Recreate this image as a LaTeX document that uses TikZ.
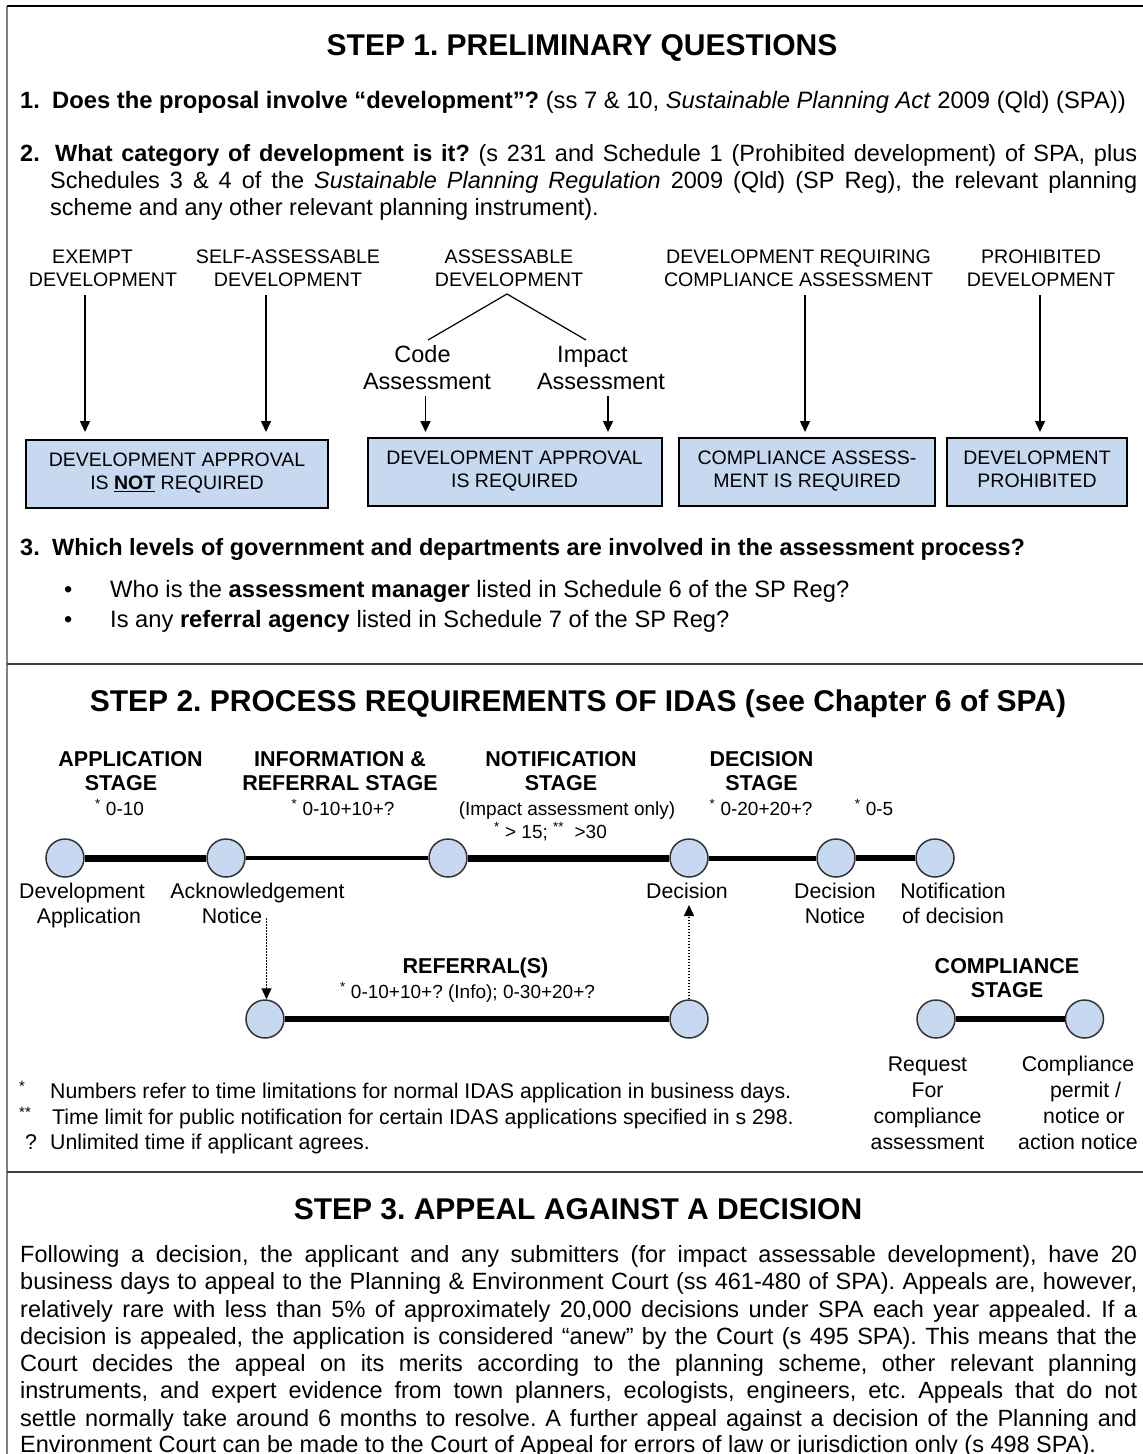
\documentclass[tikz,border=0pt]{standalone}
\usepackage{fontspec}
\setmainfont{Liberation Sans}
\usetikzlibrary{arrows.meta}
\definecolor{boxblue}{HTML}{C6D9F1}
\definecolor{framegray}{HTML}{808080}
\newcommand\fs[2]{\fontsize{#1}{#2}\selectfont}
\frenchspacing
\tikzset{
  ttl/.style={font=\fs{30}{34}\bfseries\frenchspacing, anchor=base, inner sep=0pt},
  qtxt/.style={font=\fs{23.5}{27}\frenchspacing, anchor=base west, inner sep=0pt},
  cat/.style={font=\fs{19.6}{23}, align=center, anchor=base, inner sep=0pt},
  bx/.style={draw=black, line width=2pt, fill=boxblue, font=\fs{19.5}{23}, align=center, inner sep=0pt},
  arr/.style={line width=1.5pt, -{Triangle[length=11pt,width=10pt]}},
  stg/.style={font=\fs{21.5}{24}\bfseries, align=center, anchor=base, inner sep=0pt},
  num/.style={font=\fs{19}{23}\frenchspacing, anchor=base, inner sep=0pt},
  lbl/.style={font=\fs{21.3}{25}, align=center, anchor=base, inner sep=0pt},
  fn/.style={font=\fs{21.3}{25}\frenchspacing, anchor=base west, inner sep=0pt},
  dot/.style={circle, minimum size=38pt, inner sep=0pt, fill=boxblue, draw=black!80, line width=1.5pt},
  dotarr/.style={line width=1.2pt, dash pattern=on 1.5pt off 1.5pt, -{Triangle[length=11pt,width=10pt]}},
  rule/.style={line width=1.5pt, black!75}
}
\begin{document}
\begin{tikzpicture}[x=1pt,y=-1pt]
\useasboundingbox (0,0) rectangle (1143,1454);
% frame
\draw[framegray, line width=2pt] (7,6) -- (7,1454);
\draw[black, line width=1.5pt] (7,6) -- (1143,6);
\draw[rule] (7,664) -- (1143,664);
\draw[rule] (7,1172) -- (1143,1172);

% ---------- STEP 1
\node[ttl] (t1) at (582,55.5) {STEP 1. PRELIMINARY QUESTIONS};
\node[qtxt] (q1n) at (20,108.5) {\textbf{1.}};
\node[qtxt, font=\fs{23.75}{27}\frenchspacing] (q1) at (52,108.5) {\textbf{Does the proposal involve “development”?} (ss 7 \& 10, \textit{Sustainable Planning Act} 2009 (Qld) (SPA))};
\node[qtxt] (q2n) at (20,161) {\textbf{2.}};
\node[qtxt] (q2a) at (55,161) {\makebox[1082pt][s]{\textbf{What category of development is it?} (s 231 and Schedule 1 (Prohibited development) of SPA, plus}};
\node[qtxt] (q2b) at (50,188) {\makebox[1087pt][s]{Schedules 3 \& 4 of the \textit{Sustainable Planning Regulation} 2009 (Qld) (SP Reg), the relevant planning}};
\node[qtxt] (q2c) at (50,215) {scheme and any other relevant planning instrument).};

% categories (anchor = baseline of last line)
\node[cat] (cex) at (103,286) {EXEMPT\hspace*{21pt}\\DEVELOPMENT};
\node[cat] (csa) at (288,286) {SELF-ASSESSABLE\\DEVELOPMENT};
\node[cat] (cas) at (509,286) {ASSESSABLE\\DEVELOPMENT};
\node[cat] (ccp) at (798.5,286) {DEVELOPMENT REQUIRING\\COMPLIANCE ASSESSMENT};
\node[cat] (cpr) at (1041,286) {PROHIBITED\\DEVELOPMENT};
\node[qtxt, anchor=base, align=center] (ccode) at (427,389.5) {Code\hspace*{9pt}\\Assessment};
\node[qtxt, anchor=base, align=center] (cimp) at (601,389.5) {Impact\hspace*{17pt}\\Assessment};

% boxes
\node[bx, minimum width=302pt, minimum height=68pt] (b1) at (177,474) {DEVELOPMENT APPROVAL\\IS \underline{\textbf{NOT}} REQUIRED\rule[-6pt]{0pt}{1pt}};
\node[bx, minimum width=294pt, minimum height=68pt] (b2) at (514.5,472) {DEVELOPMENT APPROVAL\\IS REQUIRED\rule[-6pt]{0pt}{1pt}};
\node[bx, minimum width=256pt, minimum height=68pt] (b3) at (807,472) {COMPLIANCE ASSESS-\\MENT IS REQUIRED\rule[-6pt]{0pt}{1pt}};
\node[bx, minimum width=180pt, minimum height=68pt] (b4) at (1037,472) {DEVELOPMENT\\PROHIBITED\rule[-6pt]{0pt}{1pt}};

% arrows
\coordinate (aex) at (85,295);
\coordinate (asa) at (266,295);
\coordinate (acp) at (805,295);
\coordinate (apr) at (1040,295);
\coordinate (acd) at (425.5,396);
\coordinate (aim) at (608,396);
\draw[arr, shorten >=7pt] (aex) -- (aex |- b1.north);
\draw[arr, shorten >=7pt] (asa) -- (asa |- b1.north);
\draw[arr, shorten >=5pt] (acp) -- (acp |- b3.north);
\draw[arr, shorten >=5pt] (apr) -- (apr |- b4.north);
\draw[arr, shorten >=5pt] (acd) -- (acd |- b2.north);
\draw[arr, shorten >=5pt] (aim) -- (aim |- b2.north);
\coordinate (asb) at (507,294);
\coordinate (cdt) at (428,340);
\coordinate (imt) at (586,340);
\draw[line width=1.2pt] (cdt) -- (asb) -- (imt);

% question 3
\node[qtxt] (q3n) at (20,555.5) {\textbf{3.}};
\node[qtxt] (q3) at (52,555.5) {\textbf{Which levels of government and departments are involved in the assessment process?}};
\node[qtxt] (bu1) at (64,597.5) {•};
\node[qtxt, font=\fs{23.7}{27}\frenchspacing] (bt1) at (110,597.5) {Who is the \textbf{assessment manager} listed in Schedule 6 of the SP Reg?};
\node[qtxt] (bu2) at (64,627.5) {•};
\node[qtxt, font=\fs{23.7}{27}\frenchspacing] (bt2) at (110,627.5) {Is any \textbf{referral agency} listed in Schedule 7 of the SP Reg?};

% ---------- STEP 2
\node[ttl] (t2) at (578,711) {STEP 2. PROCESS REQUIREMENTS OF IDAS (see Chapter 6 of SPA)};

\node[stg] (sapp) at (130.5,790.7) {APPLICATION\\STAGE\hspace*{19pt}};
\node[num] (napp) at (119.5,815) {\textsuperscript{*} 0-10};
\node[stg] (sinf) at (340,790.7) {INFORMATION \&\\REFERRAL STAGE};
\node[num] (ninf) at (343,815) {\textsuperscript{*} 0-10+10+?};
\node[stg] (snot) at (561,790.7) {NOTIFICATION\\STAGE};
\node[num] (nnot) at (567,815) {(Impact assessment only)};
\node[num] (nnot2) at (550.5,838) {\textsuperscript{*} > 15; \textsuperscript{**}\ \ >30};
\node[stg] (sdec) at (761.5,790.7) {DECISION\\STAGE};
\node[num] (ndec) at (761,815) {\textsuperscript{*} 0-20+20+?};
\node[num] (n05) at (874,815) {\textsuperscript{*} 0-5};

\node[dot] (c1) at (65,858) {};
\node[dot] (c2) at (226,858) {};
\node[dot] (c3) at (448,858) {};
\node[dot] (c4) at (689,858) {};
\node[dot] (c5) at (836,858) {};
\node[dot] (c6) at (935,858) {};
\draw[line width=7pt] (c1) -- (c2);
\draw[line width=4.5pt] (c2) -- (c3);
\draw[line width=7pt] (c3) -- (c4);
\draw[line width=5pt] (c4) -- (c5);
\draw[line width=5.5pt] (c5) -- (c6);

\node[lbl] (ldev) at (82,923.6) {Development\\\hspace*{14pt}Application};
\node[lbl] (lack) at (257.5,923.6) {Acknowledgement\\Notice\hspace*{51pt}};
\node[lbl] (ldec) at (687,898.6) {Decision};
\node[lbl] (ldn) at (835,923.6) {Decision\\Notice};
\node[lbl] (lnot) at (953,923.6) {Notification\\of decision};

% referral
\node[stg] (sref) at (475.5,973.7) {REFERRAL(S)};
\node[num] (nref) at (467.5,998) {\textsuperscript{*} 0-10+10+? (Info); 0-30+20+?};
\node[dot] (r1) at (265,1019) {};
\node[dot] (r2) at (689,1019) {};
\draw[line width=6pt] (r1) -- (r2);
\coordinate (ackd) at (266.5,918);
\coordinate (decd) at (689,905);
\draw[dotarr] (ackd) -- (ackd |- r1.north);
\draw[dotarr] (r2) -- (decd);

% compliance
\node[stg] (scomp) at (1007,997.7) {COMPLIANCE\\STAGE};
\node[dot] (k1) at (936,1019) {};
\node[dot] (k2) at (1084.5,1019) {};
\draw[line width=6pt] (k1) -- (k2);
\node[lbl, font=\fs{21.3}{26}] (lreq) at (927.5,1149.6) {Request\\For\\compliance\\assessment};
\node[lbl, font=\fs{21.3}{26}] (lperm) at (1078,1149.6) {Compliance\\\hspace*{15pt}permit /\\\hspace*{12pt}notice or\\action notice};

% footnotes
\node[fn] (f1m) at (19,1098.6) {\textsuperscript{*}};
\node[fn] (f1) at (50,1098.6) {Numbers refer to time limitations for normal IDAS application in business days.};
\node[fn] (f2m) at (19,1124.6) {\textsuperscript{**}};
\node[fn] (f2) at (52,1124.6) {Time limit for public notification for certain IDAS applications specified in s 298.};
\node[fn] (f3m) at (25,1149.6) {?};
\node[fn] (f3) at (50,1149.6) {Unlimited time if applicant agrees.};

% ---------- STEP 3
\node[ttl] (t3) at (578,1219) {STEP 3. APPEAL AGAINST A DECISION};
\node[qtxt] (p1) at (20,1262.4) {\makebox[1117pt][s]{Following a decision, the applicant and any submitters (for impact assessable development), have 20}};
\node[qtxt] (p2) at (20,1289.7) {\makebox[1117pt][s]{business days to appeal to the Planning \& Environment Court (ss 461-480 of SPA). Appeals are, however,}};
\node[qtxt] (p3) at (20,1317.0) {\makebox[1117pt][s]{relatively rare with less than 5\% of approximately 20,000 decisions under SPA each year appealed. If a}};
\node[qtxt] (p4) at (20,1344.3) {\makebox[1117pt][s]{decision is appealed, the application is considered “anew” by the Court (s 495 SPA). This means that the}};
\node[qtxt] (p5) at (20,1371.6) {\makebox[1117pt][s]{Court decides the appeal on its merits according to the planning scheme, other relevant planning}};
\node[qtxt] (p6) at (20,1398.9) {\makebox[1117pt][s]{instruments, and expert evidence from town planners, ecologists, engineers, etc. Appeals that do not}};
\node[qtxt] (p7) at (20,1426.2) {\makebox[1117pt][s]{settle normally take around 6 months to resolve. A further appeal against a decision of the Planning and}};
\node[qtxt] (p8) at (20,1452.5) {Environment Court can be made to the Court of Appeal for errors of law or jurisdiction only (s 498 SPA).};
\end{tikzpicture}
\end{document}
